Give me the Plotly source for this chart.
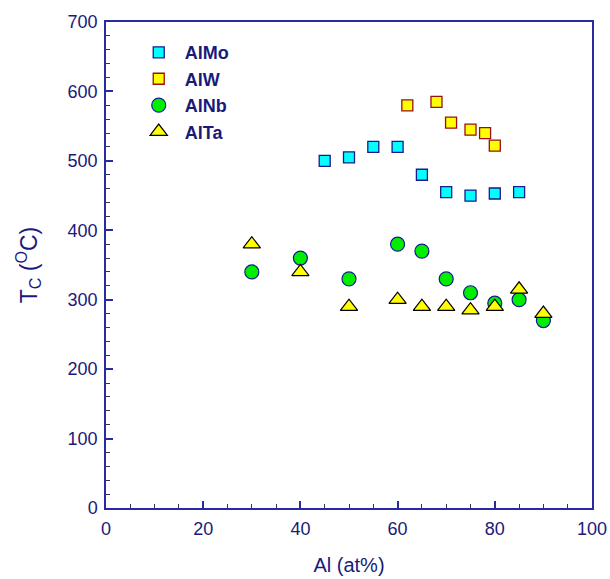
import plotly.graph_objects as go

# Curie temperature vs. Al content for four Al-based alloy systems
almo_x = [45, 50, 55, 60, 65, 70, 75, 80, 85]
almo_y = [500, 505, 520, 520, 480, 455, 450, 453, 455]

alw_x = [62, 68, 71, 75, 78, 80]
alw_y = [580, 585, 555, 545, 540, 522]

alnb_x = [30, 40, 50, 60, 65, 70, 75, 80, 85, 90]
alnb_y = [340, 360, 330, 380, 370, 330, 310, 295, 300, 270]

alta_x = [30, 40, 50, 60, 65, 70, 75, 80, 85, 90]
alta_y = [380, 340, 290, 300, 290, 290, 285, 290, 315, 280]

x_ticks = [0, 20, 40, 60, 80, 100]
y_ticks = [0, 100, 200, 300, 400, 500, 600, 700]

navy = "#1a1a7a"
axis_blue = "#2a2aa0"
font_family = "Arial, Liberation Sans"

fig = go.Figure()
fig.add_trace(go.Scatter(
    x=almo_x, y=almo_y, mode="markers", name="AlMo",
    marker=dict(symbol="square", size=11, color="#00ffff",
                line=dict(color="#1a1a90", width=1.3)),
))
fig.add_trace(go.Scatter(
    x=alw_x, y=alw_y, mode="markers", name="AlW",
    marker=dict(symbol="square", size=11, color="#ffff00",
                line=dict(color="#9a1010", width=1.3)),
))
fig.add_trace(go.Scatter(
    x=alnb_x, y=alnb_y, mode="markers", name="AlNb",
    marker=dict(symbol="circle", size=14, color="#00ee00",
                line=dict(color="#1a1a90", width=1.2)),
))
fig.add_trace(go.Scatter(
    x=alta_x, y=alta_y, mode="markers", name="AlTa",
    marker=dict(symbol="triangle-up", size=15, color="#ffff00",
                line=dict(color="#000000", width=1.2)),
))

axis_common = dict(
    showgrid=False, zeroline=False, showline=True, mirror=True,
    linecolor=axis_blue, linewidth=1.5, automargin=False,
    ticks="inside", ticklen=7, tickwidth=1.5, tickcolor=axis_blue,
    tickfont=dict(family=font_family, size=18, color=navy),
)

fig.update_xaxes(
    range=[0, 100], tickvals=x_ticks, ticklabelstandoff=4,
    minor=dict(dtick=5, ticks="inside", ticklen=4, tickcolor="#333355", tickwidth=1.2),
    title=dict(text="Al (at%)", font=dict(family=font_family, size=20, color=navy),
               standoff=20),
    **axis_common,
)
fig.update_yaxes(
    range=[0, 700], tickvals=y_ticks, ticklabelstandoff=3,
    minor=dict(dtick=20, ticks="inside", ticklen=4, tickcolor="#333355", tickwidth=1.2),
    title=dict(text="T<sub>C</sub> (<sup>O</sup>C)",
               font=dict(family=font_family, size=23, color=navy),
               standoff=24),
    **axis_common,
)

fig.update_layout(
    width=610, height=579,
    margin=dict(l=106, r=18, t=22, b=71),
    plot_bgcolor="white", paper_bgcolor="white",
    legend=dict(
        x=0.055, y=0.975, xanchor="left", yanchor="top",
        bgcolor="rgba(0,0,0,0)",
        font=dict(family=font_family, size=18, color=navy, weight="bold"),
        tracegroupgap=0, itemwidth=42,
    ),
)

fig.write_html("out.html")
